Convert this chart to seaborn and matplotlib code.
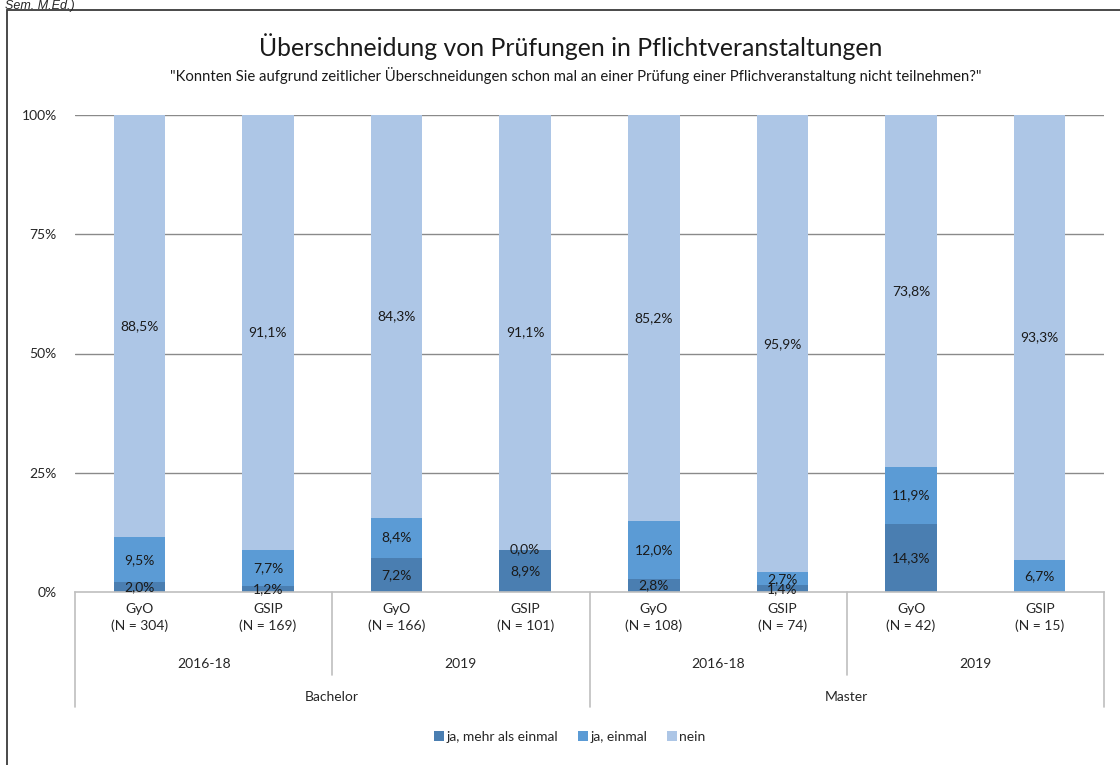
import numpy as np
import pandas as pd
import seaborn as sns
import matplotlib.pyplot as plt
from matplotlib.patches import Rectangle, Patch
from matplotlib.lines import Line2D
import matplotlib.transforms as mtransforms

# data
bars = ['GyO\n(N = 304)', 'GSIP\n(N = 169)', 'GyO\n(N = 166)', 'GSIP\n(N = 101)',
        'GyO\n(N = 108)', 'GSIP\n(N = 74)', 'GyO\n(N = 42)', 'GSIP\n(N = 15)']
years = ['2016-18', '2019', '2016-18', '2019']
degrees = ['Bachelor', 'Master']
mehr = [2.0, 1.2, 7.2, 8.9, 2.8, 1.4, 14.3, None]
einmal = [9.5, 7.7, 8.4, 0.0, 12.0, 2.7, 11.9, 6.7]
nein = [88.5, 91.1, 84.3, 91.1, 85.2, 95.9, 73.8, 93.3]
series_names = ['ja, mehr als einmal', 'ja, einmal', 'nein']
colors = ['#4a7eb1', '#5b9bd5', '#adc6e6']

sns.set_style('white')
plt.rcParams['font.family'] = ['Lato', 'DejaVu Sans']

W, H = 1120, 765
fig = plt.figure(figsize=(W / 100, H / 100), dpi=100)
x0, x1, ytop, ybot = 75, 1104, 115, 592
ax = fig.add_axes([x0 / W, 1 - ybot / H, (x1 - x0) / W, (ybot - ytop) / H])

m = np.array([v if v is not None else 0.0 for v in mehr])
e = np.array(einmal)
n = np.array(nein)
df = pd.DataFrame({'bar': range(len(bars)), 'mehr': m, 'einmal': e, 'nein': n})
df['c1'] = df['mehr']
df['c2'] = df['mehr'] + df['einmal']
df['c3'] = df['c2'] + df['nein']

# stacked via overlapping cumulative bars (top layer first)
for col, c in zip(['c3', 'c2', 'c1'], colors[::-1]):
    sns.barplot(data=df, x='bar', y=col, color=c, width=0.4, ax=ax,
                linewidth=0, saturation=1, zorder=3)

ax.set_xlim(-0.5, len(bars) - 0.5)
ax.set_ylim(0, 100)
ax.set_yticks([0, 25, 50, 75, 100])
ax.set_yticklabels(['0%', '25%', '50%', '75%', '100%'], fontsize=10)
ax.tick_params(axis='y', length=0, pad=13)
ax.set_xticks([])
ax.set_xlabel('')
ax.set_ylabel('')
for yv in [25, 50, 75, 100]:
    ax.axhline(yv, color='#8a8a8a', lw=1, zorder=1)
for s in ['top', 'right', 'left']:
    ax.spines[s].set_visible(False)
ax.spines['bottom'].set_color('#bfbfbf')
ax.spines['bottom'].set_linewidth(1.2)
ax.spines['bottom'].set_zorder(4)

# data labels
def fmt(v):
    return f'{v:.1f}'.replace('.', ',') + '%'

for i in range(len(bars)):
    segs = [(mehr[i], 0.0), (einmal[i], m[i]), (nein[i], m[i] + e[i])]
    for val, base in segs:
        if val is None:
            continue
        ax.text(i, base + val / 2, fmt(val), ha='center', va='center',
                fontsize=10, color='#1a1a1a', zorder=5)

# multi-level category axis
trans = mtransforms.blended_transform_factory(ax.transData, ax.transAxes)
hpx = ybot - ytop
def ya(py):
    return (ybot - py) / hpx

for i, lab in enumerate(bars):
    ax.text(i, ya(603), lab, ha='center', va='top', fontsize=10,
            linespacing=1.45, transform=trans, clip_on=False)
for j, lab in enumerate(years):
    ax.text(2 * j + 0.5, ya(664), lab, ha='center', va='center', fontsize=10,
            transform=trans)
for k, lab in enumerate(degrees):
    ax.text(4 * k + 1.5, ya(697), lab, ha='center', va='center', fontsize=10,
            transform=trans)
for xb in [-0.5, 3.5, 7.5]:
    ax.add_line(Line2D([xb, xb], [0, ya(707)], transform=trans, color='#bfbfbf',
                       lw=1.2, clip_on=False))
for xb in [1.5, 5.5]:
    ax.add_line(Line2D([xb, xb], [0, ya(675)], transform=trans, color='#bfbfbf',
                       lw=1.2, clip_on=False))

# titles
fig.text(571 / W, 1 - 47 / H, 'Überschneidung von Prüfungen in Pflichtveranstaltungen',
         ha='center', va='center', fontsize=17.8, color='#1a1a1a')
fig.text(576 / W, 1 - 75 / H,
         '"Konnten Sie aufgrund zeitlicher Überschneidungen schon mal an einer Prüfung einer Pflichveranstaltung nicht teilnehmen?"',
         ha='center', va='center', fontsize=10.7, color='#1a1a1a')

# legend
handles = [Patch(facecolor=c, edgecolor='none') for c in colors]
fig.legend(handles, series_names, loc='center', bbox_to_anchor=(570 / W, 1 - 737 / H),
           ncol=3, frameon=False, fontsize=10, handlelength=0.7, handleheight=0.7,
           handletextpad=0.2, columnspacing=1.4)

# outer frame and note from the page above
fig.add_artist(Rectangle((7 / W, -0.1), 1.2, 1.1 - 10 / H, transform=fig.transFigure,
                         fill=False, edgecolor='#3a3a3a', lw=1.3))
fig.text(5 / W, 1 - 9 / H, 'Sem. M.Ed.)', ha='left', va='baseline', fontsize=9,
         style='italic', family=['Liberation Sans', 'DejaVu Sans'])

fig.savefig('out.png', dpi=100)
